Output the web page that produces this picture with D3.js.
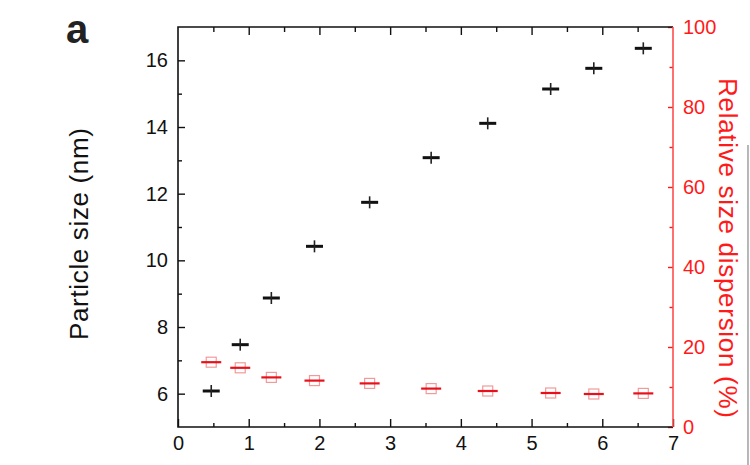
<!DOCTYPE html>
<html>
<head>
<meta charset="utf-8">
<script src="https://cdn.jsdelivr.net/npm/d3@7"></script>
<style>
  html, body { margin: 0; padding: 0; background: #fff; }
  svg { display: block; font-family: "Liberation Sans", Arial, sans-serif; }
</style>
</head>
<body>
<svg id="chart" width="750" height="465"></svg>
<script>
// ---- data ----
const timeX      = [0.47, 0.88, 1.32, 1.93, 2.71, 3.58, 4.38, 5.27, 5.88, 6.58];
const particleSize = [6.08, 7.47, 8.87, 10.42, 11.74, 13.08, 14.11, 15.14, 15.76, 16.36];
const dispersion = [16.2, 14.8, 12.4, 11.6, 10.9, 9.6, 9.0, 8.5, 8.25, 8.4];
const xTicks  = [0, 1, 2, 3, 4, 5, 6, 7];
const yLTicks = [6, 8, 10, 12, 14, 16];
const yRTicks = [0, 20, 40, 60, 80, 100];

const svg = d3.select("#chart");
const L = 178, R = 673, T = 27, B = 427;
const x  = d3.scaleLinear([0, 7], [L, R]);
const yL = d3.scaleLinear([5, 17], [B, T]);
const yR = d3.scaleLinear([0, 100], [B, T]);
const red = "#ff1a1a";

function styleAxis(g, color) {
  g.select(".domain").remove();
  g.selectAll("line").attr("stroke", color).attr("stroke-width", 1.4);
  g.selectAll("text").attr("fill", color).attr("font-size", 20)
    .attr("font-family", "Liberation Sans, Arial, sans-serif");
}

// minor ticks
const xMinor = d3.range(0.5, 7, 1);
const yLMinor = d3.range(7, 17, 2);
const yRMinor = d3.range(10, 100, 20);

// bottom axis
svg.append("g").attr("transform", `translate(0,${B})`)
  .call(d3.axisBottom(x).tickValues(xMinor).tickSize(-4).tickFormat(""))
  .call(g => styleAxis(g, "#111"));
svg.append("g").attr("transform", `translate(0,${B})`)
  .call(d3.axisBottom(x).tickValues(xTicks).tickSize(-8).tickPadding(9).tickFormat(d3.format("d")))
  .call(g => styleAxis(g, "#111"));
// top axis (no labels)
svg.append("g").attr("transform", `translate(0,${T})`)
  .call(d3.axisTop(x).tickValues(xMinor).tickSize(-5).tickFormat(""))
  .call(g => styleAxis(g, "#111"));
svg.append("g").attr("transform", `translate(0,${T})`)
  .call(d3.axisTop(x).tickValues(xTicks.slice(1, 7)).tickSize(-8).tickFormat(""))
  .call(g => styleAxis(g, "#111"));
// left axis
svg.append("g").attr("transform", `translate(${L},0)`)
  .call(d3.axisLeft(yL).tickValues(yLMinor).tickSize(-4).tickFormat(""))
  .call(g => styleAxis(g, "#111"));
svg.append("g").attr("transform", `translate(${L},0)`)
  .call(d3.axisLeft(yL).tickValues(yLTicks).tickSize(-7).tickPadding(10).tickFormat(d3.format("d")))
  .call(g => styleAxis(g, "#111"));
// right axis (red)
svg.append("g").attr("transform", `translate(${R},0)`)
  .call(d3.axisRight(yR).tickValues(yRMinor).tickSize(-3.5).tickFormat(""))
  .call(g => styleAxis(g, red));
svg.append("g").attr("transform", `translate(${R},0)`)
  .call(d3.axisRight(yR).tickValues(yRTicks).tickSize(-5).tickPadding(10).tickFormat(d3.format("d")))
  .call(g => styleAxis(g, red));

// frame
svg.append("path").attr("d", `M${R},${T}H${L}V${B}H${R}`)
  .attr("fill", "none").attr("stroke", "#111").attr("stroke-width", 1.6);
svg.append("line").attr("x1", R).attr("x2", R).attr("y1", T).attr("y2", B)
  .attr("stroke", "#ff4d4d").attr("stroke-width", 1.6);

// red series: open squares with horizontal bar
const rg = svg.append("g");
dispersion.forEach((v, i) => {
  const cx = x(timeX[i]), cy = yR(v);
  rg.append("rect").attr("x", cx - 5).attr("y", cy - 5).attr("width", 10).attr("height", 10)
    .attr("fill", "none").attr("stroke", "#f29a9a").attr("stroke-width", 1.2);
  rg.append("line").attr("x1", cx - 10).attr("x2", cx + 10).attr("y1", cy).attr("y2", cy)
    .attr("stroke", "#e8101a").attr("stroke-width", 2.2);
});

// black series: crosses
const bg = svg.append("g");
particleSize.forEach((v, i) => {
  const cx = x(timeX[i]), cy = yL(v);
  bg.append("line").attr("x1", cx - 8.5).attr("x2", cx + 8.5).attr("y1", cy).attr("y2", cy)
    .attr("stroke", "#111").attr("stroke-width", 3);
  bg.append("line").attr("x1", cx).attr("x2", cx).attr("y1", cy - 6).attr("y2", cy + 6)
    .attr("stroke", "#222").attr("stroke-width", 1.6);
});

// titles
svg.append("text").attr("transform", "translate(88,234) rotate(-90)")
  .attr("text-anchor", "middle").attr("font-size", 26).attr("fill", "#111")
  .attr("textLength", 212).attr("lengthAdjust", "spacing")
  .text("Particle size (nm)");
svg.append("text").attr("transform", "translate(719,248) rotate(90)")
  .attr("text-anchor", "middle").attr("font-size", 26).attr("fill", red)
  .attr("textLength", 340).attr("lengthAdjust", "spacing")
  .text("Relative size dispersion (%)");
svg.append("text").attr("x", 66).attr("y", 43)
  .attr("font-size", 40).attr("font-weight", "bold").attr("fill", "#222").text("a");

// edge of neighbouring panel
svg.append("line").attr("x1", 748).attr("x2", 748).attr("y1", 145).attr("y2", 465)
  .attr("stroke", "#888").attr("stroke-width", 1.2);
</script>
</body>
</html>
